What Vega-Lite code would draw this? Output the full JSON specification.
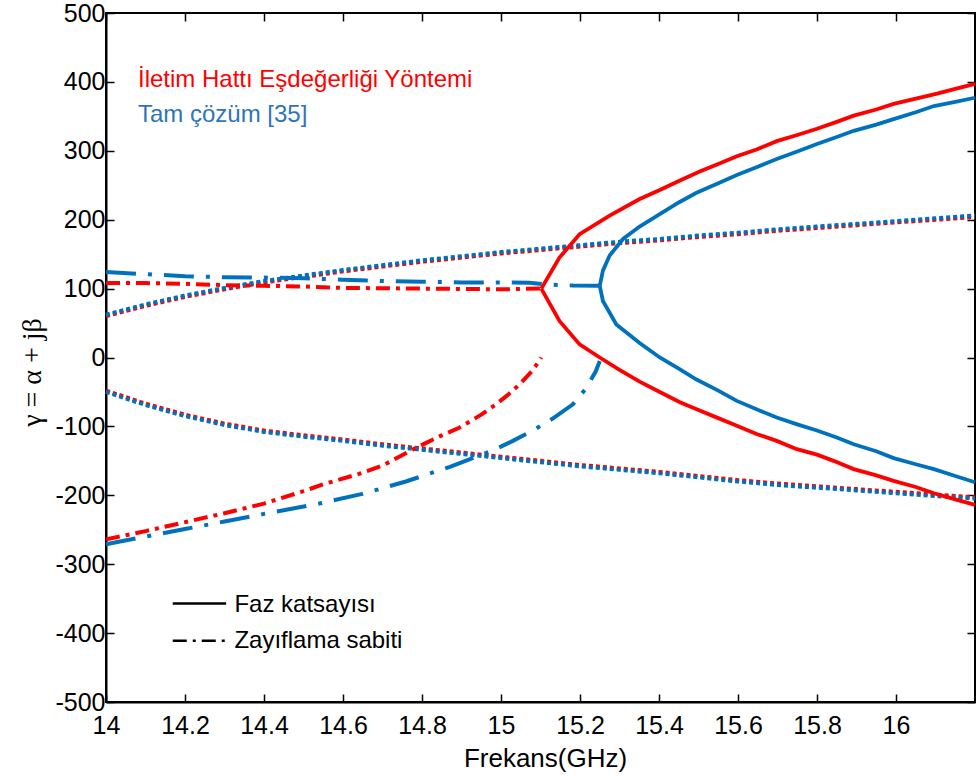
{
  "$schema": "https://vega.github.io/schema/vega-lite/v6.json",
  "width": 869,
  "height": 689,
  "autosize": {"type": "none"},
  "padding": {"left": 106, "top": 13, "right": 1, "bottom": 78},
  "background": "white",
  "config": {
    "view": {"stroke": "black", "strokeWidth": 2},
    "axis": {
      "grid": false,
      "domainColor": "black",
      "domainWidth": 2,
      "tickColor": "black",
      "tickWidth": 1.5,
      "tickSize": -8,
      "labelFont": "Liberation Sans",
      "labelFontSize": 25,
      "labelColor": "black",
      "titleColor": "black",
      "titleFontWeight": "normal"
    }
  },
  "datasets": {
    "rp_up": [
      {"f": 15.102, "v": 100}, {"f": 15.148, "v": 145}, {"f": 15.199, "v": 179}, {"f": 15.275, "v": 206},
      {"f": 15.351, "v": 230}, {"f": 15.402, "v": 243}, {"f": 15.453, "v": 257}, {"f": 15.503, "v": 270},
      {"f": 15.55, "v": 281}, {"f": 15.597, "v": 292}, {"f": 15.647, "v": 302}, {"f": 15.698, "v": 314},
      {"f": 15.75, "v": 323}, {"f": 15.8, "v": 332}, {"f": 15.85, "v": 342}, {"f": 15.893, "v": 351},
      {"f": 15.95, "v": 360}, {"f": 15.994, "v": 368}, {"f": 16.053, "v": 376}, {"f": 16.104, "v": 383},
      {"f": 16.15, "v": 390}, {"f": 16.2, "v": 397}
    ],
    "rp_lo": [
      {"f": 15.102, "v": 100}, {"f": 15.148, "v": 53}, {"f": 15.199, "v": 19}, {"f": 15.25, "v": 0},
      {"f": 15.3, "v": -18}, {"f": 15.351, "v": -35}, {"f": 15.402, "v": -50}, {"f": 15.453, "v": -65},
      {"f": 15.503, "v": -77}, {"f": 15.55, "v": -88}, {"f": 15.597, "v": -99}, {"f": 15.647, "v": -111},
      {"f": 15.698, "v": -121}, {"f": 15.749, "v": -133}, {"f": 15.8, "v": -141}, {"f": 15.842, "v": -150},
      {"f": 15.893, "v": -162}, {"f": 15.95, "v": -171}, {"f": 15.994, "v": -179}, {"f": 16.05, "v": -188},
      {"f": 16.096, "v": -197}, {"f": 16.15, "v": -206}, {"f": 16.2, "v": -214}
    ],
    "bp_up": [
      {"f": 15.25, "v": 104}, {"f": 15.258, "v": 126}, {"f": 15.275, "v": 148}, {"f": 15.309, "v": 172},
      {"f": 15.351, "v": 190}, {"f": 15.402, "v": 208}, {"f": 15.45, "v": 225}, {"f": 15.495, "v": 239},
      {"f": 15.55, "v": 253}, {"f": 15.597, "v": 265}, {"f": 15.65, "v": 277}, {"f": 15.698, "v": 288},
      {"f": 15.75, "v": 299}, {"f": 15.8, "v": 310}, {"f": 15.85, "v": 320}, {"f": 15.893, "v": 329},
      {"f": 15.95, "v": 338}, {"f": 15.994, "v": 346}, {"f": 16.05, "v": 356}, {"f": 16.096, "v": 365},
      {"f": 16.15, "v": 371}, {"f": 16.2, "v": 377}
    ],
    "bp_lo": [
      {"f": 15.25, "v": 104}, {"f": 15.258, "v": 82}, {"f": 15.292, "v": 48}, {"f": 15.351, "v": 21},
      {"f": 15.402, "v": 0}, {"f": 15.45, "v": -16}, {"f": 15.495, "v": -32}, {"f": 15.55, "v": -48},
      {"f": 15.597, "v": -63}, {"f": 15.65, "v": -76}, {"f": 15.698, "v": -87}, {"f": 15.75, "v": -97},
      {"f": 15.8, "v": -106}, {"f": 15.85, "v": -116}, {"f": 15.893, "v": -126}, {"f": 15.95, "v": -136},
      {"f": 15.994, "v": -146}, {"f": 16.05, "v": -155}, {"f": 16.096, "v": -162}, {"f": 16.15, "v": -172},
      {"f": 16.2, "v": -181}
    ],
    "ra_up": [
      {"f": 14.0, "v": 108}, {"f": 14.1, "v": 108}, {"f": 14.2, "v": 107}, {"f": 14.3, "v": 105},
      {"f": 14.4, "v": 104}, {"f": 14.5, "v": 103}, {"f": 14.6, "v": 101}, {"f": 14.7, "v": 100.5},
      {"f": 14.8, "v": 100}, {"f": 14.9, "v": 99.5}, {"f": 15.0, "v": 99}, {"f": 15.102, "v": 100}
    ],
    "ra_lo": [
      {"f": 14.0, "v": -264}, {"f": 14.1, "v": -252}, {"f": 14.2, "v": -239}, {"f": 14.3, "v": -226},
      {"f": 14.4, "v": -212}, {"f": 14.5, "v": -194}, {"f": 14.55, "v": -184}, {"f": 14.64, "v": -169},
      {"f": 14.7, "v": -157}, {"f": 14.785, "v": -131}, {"f": 14.85, "v": -113}, {"f": 14.894, "v": -102},
      {"f": 14.95, "v": -83}, {"f": 14.987, "v": -68}, {"f": 15.02, "v": -53}, {"f": 15.047, "v": -39},
      {"f": 15.08, "v": -19}, {"f": 15.102, "v": 0}
    ],
    "ba_up": [
      {"f": 14.0, "v": 124}, {"f": 14.1, "v": 121}, {"f": 14.2, "v": 118}, {"f": 14.3, "v": 116.5},
      {"f": 14.4, "v": 116}, {"f": 14.5, "v": 115}, {"f": 14.6, "v": 113}, {"f": 14.7, "v": 111},
      {"f": 14.8, "v": 110}, {"f": 14.9, "v": 109}, {"f": 15.0, "v": 109}, {"f": 15.072, "v": 108.5},
      {"f": 15.114, "v": 106}, {"f": 15.182, "v": 104.5}, {"f": 15.25, "v": 104}
    ],
    "ba_lo": [
      {"f": 14.0, "v": -271}, {"f": 14.1, "v": -260}, {"f": 14.2, "v": -249}, {"f": 14.3, "v": -238},
      {"f": 14.4, "v": -227}, {"f": 14.54, "v": -212}, {"f": 14.649, "v": -198}, {"f": 14.759, "v": -180},
      {"f": 14.869, "v": -159}, {"f": 14.979, "v": -135}, {"f": 15.03, "v": -121}, {"f": 15.08, "v": -106},
      {"f": 15.13, "v": -89}, {"f": 15.182, "v": -68}, {"f": 15.215, "v": -45}, {"f": 15.24, "v": -20},
      {"f": 15.25, "v": -5}
    ],
    "bd_up": [
      {"f": 14.0, "v": 62}, {"f": 14.1, "v": 77}, {"f": 14.2, "v": 90}, {"f": 14.3, "v": 101},
      {"f": 14.4, "v": 111}, {"f": 14.5, "v": 119}, {"f": 14.6, "v": 127}, {"f": 14.7, "v": 134},
      {"f": 14.8, "v": 141}, {"f": 14.9, "v": 147}, {"f": 15.0, "v": 153}, {"f": 15.1, "v": 158},
      {"f": 15.2, "v": 163}, {"f": 15.3, "v": 168}, {"f": 15.4, "v": 172}, {"f": 15.5, "v": 177},
      {"f": 15.6, "v": 181}, {"f": 15.7, "v": 186}, {"f": 15.8, "v": 190}, {"f": 15.9, "v": 194},
      {"f": 16.0, "v": 198}, {"f": 16.1, "v": 202}, {"f": 16.2, "v": 206}
    ],
    "rd_up": [
      {"f": 14.0, "v": 60}, {"f": 14.1, "v": 75}, {"f": 14.2, "v": 88}, {"f": 14.3, "v": 99},
      {"f": 14.4, "v": 109}, {"f": 14.5, "v": 117}, {"f": 14.6, "v": 125}, {"f": 14.7, "v": 132},
      {"f": 14.8, "v": 139}, {"f": 14.9, "v": 145}, {"f": 15.0, "v": 151}, {"f": 15.1, "v": 156},
      {"f": 15.2, "v": 161}, {"f": 15.3, "v": 166}, {"f": 15.4, "v": 170}, {"f": 15.5, "v": 175},
      {"f": 15.6, "v": 179}, {"f": 15.7, "v": 184}, {"f": 15.8, "v": 188}, {"f": 15.9, "v": 192},
      {"f": 16.0, "v": 196}, {"f": 16.1, "v": 200}, {"f": 16.2, "v": 204}
    ],
    "bd_lo": [
      {"f": 14.0, "v": -50}, {"f": 14.1, "v": -69}, {"f": 14.2, "v": -85}, {"f": 14.3, "v": -98},
      {"f": 14.4, "v": -108}, {"f": 14.5, "v": -115}, {"f": 14.6, "v": -121}, {"f": 14.7, "v": -128},
      {"f": 14.8, "v": -134}, {"f": 14.9, "v": -140}, {"f": 15.0, "v": -146}, {"f": 15.1, "v": -152},
      {"f": 15.2, "v": -158}, {"f": 15.3, "v": -163}, {"f": 15.4, "v": -168}, {"f": 15.5, "v": -174},
      {"f": 15.6, "v": -180}, {"f": 15.7, "v": -185}, {"f": 15.8, "v": -189}, {"f": 15.9, "v": -193},
      {"f": 16.0, "v": -197}, {"f": 16.1, "v": -201}, {"f": 16.2, "v": -205}
    ],
    "rd_lo": [
      {"f": 14.0, "v": -48}, {"f": 14.1, "v": -67}, {"f": 14.2, "v": -83}, {"f": 14.3, "v": -96},
      {"f": 14.4, "v": -106}, {"f": 14.5, "v": -113}, {"f": 14.6, "v": -119}, {"f": 14.7, "v": -126},
      {"f": 14.8, "v": -132}, {"f": 14.9, "v": -138}, {"f": 15.0, "v": -144}, {"f": 15.1, "v": -150},
      {"f": 15.2, "v": -156}, {"f": 15.3, "v": -161}, {"f": 15.4, "v": -166}, {"f": 15.5, "v": -172},
      {"f": 15.6, "v": -178}, {"f": 15.7, "v": -183}, {"f": 15.8, "v": -187}, {"f": 15.9, "v": -191},
      {"f": 16.0, "v": -195}, {"f": 16.1, "v": -199}, {"f": 16.2, "v": -203}
    ],
    "leg_solid": [{"f": 14.169, "v": -357}, {"f": 14.304, "v": -357}],
    "leg_dash": [{"f": 14.169, "v": -411}, {"f": 14.304, "v": -411}],
    "labels_top": [
      {"f": 14.081, "v": 392, "t": "İletim Hattı Eşdeğerliği Yöntemi", "k": "İletim"},
      {"f": 14.081, "v": 342, "t": "Tam çözüm [35]", "k": "Tam"}
    ],
    "labels_bottom": [
      {"f": 14.325, "v": -369, "t": "Faz katsayısı"},
      {"f": 14.325, "v": -422, "t": "Zayıflama sabiti"}
    ]
  },
  "resolve": {"axis": {"x": "independent", "y": "independent"}},
  "layer": [
    {
      "mark": {"type": "rule", "color": "black", "strokeWidth": 1.5},
      "encoding": {"y": {"datum": 0, "type": "quantitative", "scale": {"domain": [-500, 500], "nice": false, "zero": false}, "axis": null}}
    },
    {
      "data": {"name": "rd_up"},
      "mark": {"type": "line", "color": "#FF0000", "strokeWidth": 4, "strokeDash": [4, 3], "strokeCap": "butt"},
      "encoding": {
        "x": {"field": "f", "type": "quantitative", "scale": {"domain": [14, 16.2], "nice": false, "zero": false}, "axis": null},
        "y": {"field": "v", "type": "quantitative", "axis": null}
      }
    },
    {
      "data": {"name": "rd_lo"},
      "mark": {"type": "line", "color": "#FF0000", "strokeWidth": 4, "strokeDash": [4, 3], "strokeCap": "butt"},
      "encoding": {
        "x": {"field": "f", "type": "quantitative", "axis": null},
        "y": {"field": "v", "type": "quantitative", "axis": null}
      }
    },
    {
      "data": {"name": "bd_up"},
      "mark": {"type": "line", "color": "#0072BD", "strokeWidth": 4, "strokeDash": [4, 3], "strokeCap": "butt"},
      "encoding": {
        "x": {"field": "f", "type": "quantitative", "axis": null},
        "y": {"field": "v", "type": "quantitative", "axis": null}
      }
    },
    {
      "data": {"name": "bd_lo"},
      "mark": {"type": "line", "color": "#0072BD", "strokeWidth": 4, "strokeDash": [4, 3], "strokeCap": "butt"},
      "encoding": {
        "x": {"field": "f", "type": "quantitative", "axis": null},
        "y": {"field": "v", "type": "quantitative", "axis": null}
      }
    },
    {
      "data": {"name": "ba_up"},
      "mark": {"type": "line", "color": "#0072BD", "strokeWidth": 4, "strokeDash": [30, 12, 4, 12]},
      "encoding": {
        "x": {"field": "f", "type": "quantitative", "axis": null},
        "y": {"field": "v", "type": "quantitative", "axis": null}
      }
    },
    {
      "data": {"name": "ba_lo"},
      "mark": {"type": "line", "color": "#0072BD", "strokeWidth": 4, "strokeDash": [30, 12, 4, 12]},
      "encoding": {
        "x": {"field": "f", "type": "quantitative", "axis": null},
        "y": {"field": "v", "type": "quantitative", "axis": null}
      }
    },
    {
      "data": {"name": "ra_up"},
      "mark": {"type": "line", "color": "#FF0000", "strokeWidth": 4, "strokeDash": [14, 6, 4, 6]},
      "encoding": {
        "x": {"field": "f", "type": "quantitative", "axis": null},
        "y": {"field": "v", "type": "quantitative", "axis": null}
      }
    },
    {
      "data": {"name": "ra_lo"},
      "mark": {"type": "line", "color": "#FF0000", "strokeWidth": 4, "strokeDash": [14, 6, 4, 6]},
      "encoding": {
        "x": {"field": "f", "type": "quantitative", "axis": null},
        "y": {"field": "v", "type": "quantitative", "axis": null}
      }
    },
    {
      "data": {"name": "bp_up"},
      "mark": {"type": "line", "color": "#0072BD", "strokeWidth": 3.8},
      "encoding": {
        "x": {"field": "f", "type": "quantitative", "axis": {"orient": "top", "values": [14, 14.2, 14.4, 14.6, 14.8, 15, 15.2, 15.4, 15.6, 15.8, 16], "labels": false, "title": null, "domain": false}},
        "y": {"field": "v", "type": "quantitative", "axis": {"orient": "right", "values": [-500, -400, -300, -200, -100, 0, 100, 200, 300, 400, 500], "labels": false, "title": null, "domain": false}}
      }
    },
    {
      "data": {"name": "bp_lo"},
      "mark": {"type": "line", "color": "#0072BD", "strokeWidth": 3.8},
      "encoding": {
        "x": {"field": "f", "type": "quantitative", "axis": null},
        "y": {"field": "v", "type": "quantitative", "axis": null}
      }
    },
    {
      "data": {"name": "rp_up"},
      "mark": {"type": "line", "color": "#FF0000", "strokeWidth": 3.8},
      "encoding": {
        "x": {"field": "f", "type": "quantitative", "axis": {
          "orient": "bottom",
          "values": [14, 14.2, 14.4, 14.6, 14.8, 15, 15.2, 15.4, 15.6, 15.8, 16],
          "labelExpr": "'' + datum.value",
          "labelFlush": false,
          "labelPadding": 19,
          "labelDx": 7,
          "title": "Frekans(GHz)",
          "titleFont": "Liberation Sans",
          "titleFontSize": 26,
          "titleX": 439,
          "titleY": 64,
          "titleAlign": "center",
          "titleBaseline": "alphabetic"
        }},
        "y": {"field": "v", "type": "quantitative", "axis": {
          "orient": "left",
          "values": [-500, -400, -300, -200, -100, 0, 100, 200, 300, 400, 500],
          "labelExpr": "'' + datum.value",
          "labelFlush": false,
          "labelPadding": 9,
          "title": "γ = α + jβ",
          "titleFont": "Liberation Serif",
          "titleFontSize": 28,
          "titleAngle": -90,
          "titleX": -74,
          "titleY": 359,
          "titleAlign": "center",
          "titleBaseline": "middle"
        }}
      }
    },
    {
      "data": {"name": "rp_lo"},
      "mark": {"type": "line", "color": "#FF0000", "strokeWidth": 3.8},
      "encoding": {
        "x": {"field": "f", "type": "quantitative", "axis": null},
        "y": {"field": "v", "type": "quantitative", "axis": null}
      }
    },
    {
      "data": {"name": "leg_solid"},
      "mark": {"type": "line", "color": "black", "strokeWidth": 2.5},
      "encoding": {
        "x": {"field": "f", "type": "quantitative", "axis": null},
        "y": {"field": "v", "type": "quantitative", "axis": null}
      }
    },
    {
      "data": {"name": "leg_dash"},
      "mark": {"type": "line", "color": "black", "strokeWidth": 2.5, "strokeDash": [14, 6, 3, 6]},
      "encoding": {
        "x": {"field": "f", "type": "quantitative", "axis": null},
        "y": {"field": "v", "type": "quantitative", "axis": null}
      }
    },
    {
      "data": {"name": "labels_top"},
      "mark": {"type": "text", "align": "left", "baseline": "alphabetic", "font": "Liberation Sans", "fontSize": 24},
      "encoding": {
        "x": {"field": "f", "type": "quantitative", "axis": null},
        "y": {"field": "v", "type": "quantitative", "axis": null},
        "text": {"field": "t"},
        "color": {"field": "k", "type": "nominal", "scale": {"domain": ["İletim", "Tam"], "range": ["#FF0000", "#2E75B6"]}, "legend": null}
      }
    },
    {
      "data": {"name": "labels_bottom"},
      "mark": {"type": "text", "align": "left", "baseline": "alphabetic", "font": "Liberation Sans", "fontSize": 24, "color": "black"},
      "encoding": {
        "x": {"field": "f", "type": "quantitative", "axis": null},
        "y": {"field": "v", "type": "quantitative", "axis": null},
        "text": {"field": "t"}
      }
    }
  ]
}
